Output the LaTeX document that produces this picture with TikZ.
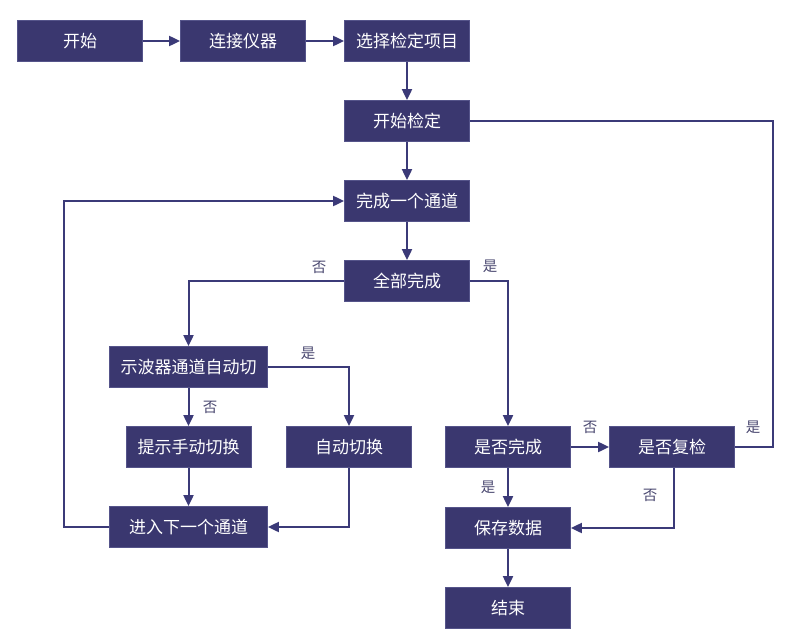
\documentclass[tikz,border=0pt]{standalone}
\usepackage{fontspec}
\newfontfamily\cjk{Noto Sans CJK SC}
\usetikzlibrary{arrows.meta}
\definecolor{boxfill}{HTML}{3A376F}
\definecolor{boxline}{HTML}{55548A}
\definecolor{linec}{HTML}{3B3A78}
\definecolor{labc}{HTML}{4A4870}
\tikzset{
  box/.style={draw=boxline, line width=0.8pt, fill=boxfill, text=white, minimum height=41pt, minimum width=125pt, inner sep=0pt, font=\cjk\fontsize{17}{19}\selectfont},
  wbox/.style={box, minimum width=158pt},
  conn/.style={draw=linec, line width=2pt},
  arr/.style={conn, -{Triangle[length=11pt,width=10pt]}},
  lab/.style={text=labc, font=\cjk\fontsize{14.5}{16}\selectfont, inner sep=0pt}
}
\begin{document}
\begin{tikzpicture}[x=1pt,y=-1pt]
\useasboundingbox (0,0) rectangle (789,637);
\node[box] (start) at (80,41) {开始};
\node[box] (conn) at (243,41) {连接仪器};
\node[box] (sel) at (407,41) {选择检定项目};
\node[box] (begin) at (407,121) {开始检定};
\node[box] (one) at (407,201) {完成一个通道};
\node[box] (all) at (407,281) {全部完成};
\node[wbox] (osc) at (188.5,367) {示波器通道自动切};
\node[box] (manual) at (188.5,447) {提示手动切换};
\node[box] (auto) at (349,447) {自动切换};
\node[wbox] (next) at (188.5,527) {进入下一个通道};
\node[box] (done) at (508,447) {是否完成};
\node[box] (rechk) at (672,447) {是否复检};
\node[box] (save) at (508,528) {保存数据};
\node[box] (end) at (508,608) {结束};
\coordinate (loopx) at (64,0);
\coordinate (rightx) at (773,0);
\coordinate (rdown) at (674,0);

\draw[arr] (start) -- (conn);
\draw[arr] (conn) -- (sel);
\draw[arr] (sel) -- (begin);
\draw[arr] (begin) -- (one);
\draw[arr] (one) -- (all);
\draw[arr] (all.west) -| (osc.north);
\draw[arr] (all.east) -| (done.north);
\draw[arr] (osc) -- (manual);
\draw[arr] (osc.east) -| (auto.north);
\draw[arr] (manual) -- (next);
\draw[arr] (auto.south) |- (next.east);
\draw[arr] (next.west) -- (next.west -| loopx) |- (one.west);
\draw[arr] (done) -- (rechk);
\draw[arr] (done) -- (save);
\draw[arr] (rechk.south -| rdown) |- (save.east);
\draw[conn] (rechk.east) -- (rechk.east -| rightx) |- (begin.east);
\draw[arr] (save) -- (end);

\node[lab] (l1) at (319,267) {否};
\node[lab] (l2) at (490,266) {是};
\node[lab] (l3) at (308,353) {是};
\node[lab] (l4) at (210,407) {否};
\node[lab] (l5) at (590,427) {否};
\node[lab] (l6) at (753,427) {是};
\node[lab] (l7) at (488,487) {是};
\node[lab] (l8) at (650,495) {否};
\end{tikzpicture}
\end{document}
